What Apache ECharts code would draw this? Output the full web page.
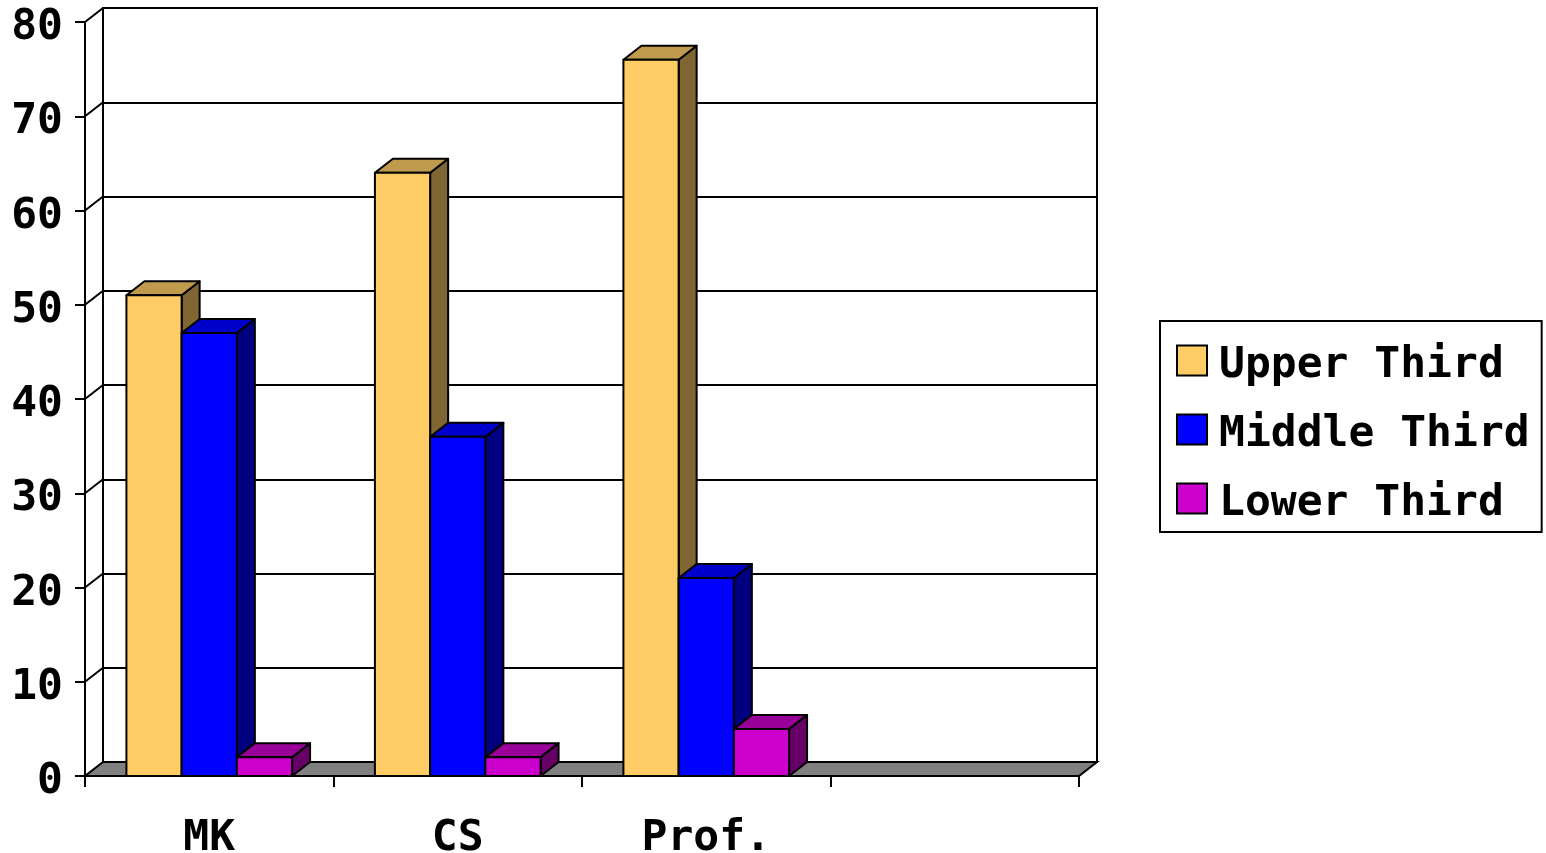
<!DOCTYPE html>
<html>
<head>
<meta charset="utf-8">
<style>
  html, body { margin: 0; padding: 0; background: #fff; }
  #chart { width: 1546px; height: 853px; }
</style>
<script src="https://cdn.jsdelivr.net/npm/echarts@6/dist/echarts.min.js"></script>
</head>
<body>
<div id="chart"></div>
<script>
// Categories along the floor (the last slot is left empty)
const categories = ['MK', 'CS', 'Prof.', ''];

// Series values (percent)
const upperThird  = [51, 64, 76, null];
const middleThird = [47, 36, 21, null];
const lowerThird  = [2, 2, 5, null];

const seriesNames = ['Upper Third', 'Middle Third', 'Lower Third'];

// Value axis ticks
const yMin = 0, yMax = 80, yStep = 10;

// Face colours for each series: front, top, side
const palette = [
  { front: '#FFCC66', top: '#C09B4D', side: '#806633' },
  { front: '#0000FF', top: '#0000CC', side: '#000080' },
  { front: '#CC00CC', top: '#990099', side: '#660066' }
];

// Pseudo-3D depth of the plot box (pixels right / up)
const DEPTH_X = 18, DEPTH_Y = 14;
const GAP_RATIO = 1.5;

const FRONT = { left: 85, right: 467, top: 22, bottom: 77 };
const BACK = {
  left: FRONT.left + DEPTH_X, right: FRONT.right - DEPTH_X,
  top: FRONT.top - DEPTH_Y, bottom: FRONT.bottom + DEPTH_Y
};

const FONT = "'DejaVu Sans Mono', monospace";
const FONT_SIZE = 43;
const seriesData = [upperThird, middleThird, lowerThird];

// Bold label text nudged down so the digits sit centred on their ticks
const labelRich = {
  t: { fontSize: FONT_SIZE, fontWeight: 'bold', fontFamily: FONT, color: '#000', padding: [12, 0, 0, 0] }
};

function toPairs(values) {
  return values.map((v, i) => [i, v]).filter(d => d[1] != null);
}

function barRenderer(idx) {
  const n = seriesData.length;
  const c = palette[idx];
  return function (params, api) {
    const cat = api.value(0), val = api.value(1);
    const base = api.coord([cat, 0]);
    const top = api.coord([cat, val]);
    const band = api.size([1, 0])[0];
    const bw = band / (n + GAP_RATIO);
    const x0 = base[0] - bw * n / 2 + idx * bw;
    const x1 = x0 + bw;
    const yt = top[1], yb = base[1];
    const line = { stroke: '#000', lineWidth: 2, lineJoin: 'round' };
    return {
      type: 'group',
      children: [
        { type: 'polygon', shape: { points: [[x1, yt], [x1, yb], [x1 + DEPTH_X, yb - DEPTH_Y], [x1 + DEPTH_X, yt - DEPTH_Y]] },
          style: Object.assign({ fill: c.side }, line) },
        { type: 'polygon', shape: { points: [[x0, yt], [x1, yt], [x1 + DEPTH_X, yt - DEPTH_Y], [x0 + DEPTH_X, yt - DEPTH_Y]] },
          style: Object.assign({ fill: c.top }, line) },
        { type: 'rect', shape: { x: x0, y: yt, width: bw, height: yb - yt },
          style: Object.assign({ fill: c.front }, line) }
      ]
    };
  };
}

// Gray floor of the plot box
function floorRenderer(params, api) {
  const cs = params.coordSys;
  const yb = cs.y + cs.height;
  return {
    type: 'polygon',
    shape: { points: [[cs.x, yb], [cs.x + cs.width, yb], [cs.x + cs.width + DEPTH_X, yb - DEPTH_Y], [cs.x + DEPTH_X, yb - DEPTH_Y]] },
    style: { fill: '#808080', stroke: '#000', lineWidth: 2 }
  };
}

// Diagonal gridlines on the left side wall
function wallRenderer(params, api) {
  const cs = params.coordSys;
  const p = api.coord([0, api.value(1)]);
  return {
    type: 'line',
    shape: { x1: cs.x, y1: p[1], x2: cs.x + DEPTH_X, y2: p[1] - DEPTH_Y },
    style: { stroke: '#000', lineWidth: 2 }
  };
}

const wallTicks = [];
for (let v = yMin + yStep; v <= yMax; v += yStep) wallTicks.push([0, v]);

const chart = echarts.init(document.getElementById('chart'), null, { renderer: 'canvas' });

chart.setOption({
  backgroundColor: '#fff',
  animation: false,
  textStyle: { fontFamily: FONT },
  grid: [
    Object.assign({ containLabel: false, outerBoundsMode: 'none' }, FRONT),
    Object.assign({ containLabel: false, outerBoundsMode: 'none', show: true, borderColor: '#000', borderWidth: 2, backgroundColor: 'transparent' }, BACK)
  ],
  xAxis: [
    {
      type: 'category', gridIndex: 0, data: categories, boundaryGap: true,
      axisLine: { show: true, lineStyle: { color: '#000', width: 2 } },
      axisTick: { show: true, length: 11, interval: 0, lineStyle: { color: '#000', width: 2 } },
      axisLabel: { margin: 41, interval: 0, color: '#000', fontSize: FONT_SIZE, fontWeight: 'bold', fontFamily: FONT },
      splitLine: { show: false }
    },
    {
      type: 'category', gridIndex: 1, data: categories, show: false
    }
  ],
  yAxis: [
    {
      type: 'value', gridIndex: 0, min: yMin, max: yMax, interval: yStep,
      axisLine: { show: true, lineStyle: { color: '#000', width: 2 } },
      axisTick: { show: true, length: 10, lineStyle: { color: '#000', width: 2 } },
      axisLabel: { margin: 22, formatter: '{t|{value}}', rich: labelRich },
      splitLine: { show: false }
    },
    {
      type: 'value', gridIndex: 1, min: yMin, max: yMax, interval: yStep,
      axisLine: { show: false }, axisTick: { show: false }, axisLabel: { show: false },
      splitLine: { show: true, lineStyle: { color: '#000', width: 2 } }
    }
  ],
  legend: {
    orient: 'vertical', left: 1160, top: 321,
    data: seriesNames,
    icon: 'rect', itemWidth: 30, itemHeight: 30, itemGap: 16,
    padding: [13, 12, 7, 16],
    borderColor: '#000', borderWidth: 2, backgroundColor: '#fff',
    itemStyle: { borderColor: '#000', borderWidth: 2 },
    formatter: name => '{t|' + name + '}',
    textStyle: {
      color: '#000', fontSize: FONT_SIZE, fontWeight: 'bold', fontFamily: FONT,
      rich: { t: { fontSize: FONT_SIZE, fontWeight: 'bold', fontFamily: FONT, color: '#000', lineHeight: 44, padding: [10, 0, 0, 7] } }
    },
    selectedMode: false
  },
  series: [
    {
      type: 'custom', name: 'floor', xAxisIndex: 0, yAxisIndex: 0, silent: true, z: 1,
      renderItem: floorRenderer, data: [[0, 0]]
    },
    {
      type: 'custom', name: 'wall', xAxisIndex: 0, yAxisIndex: 0, silent: true, z: 1,
      renderItem: wallRenderer, data: wallTicks
    }
  ].concat(seriesNames.map((name, i) => ({
    type: 'custom', name: name, xAxisIndex: 0, yAxisIndex: 0, z: 2,
    itemStyle: { color: palette[i].front },
    renderItem: barRenderer(i),
    data: toPairs(seriesData[i])
  })))
});
</script>
</body>
</html>
